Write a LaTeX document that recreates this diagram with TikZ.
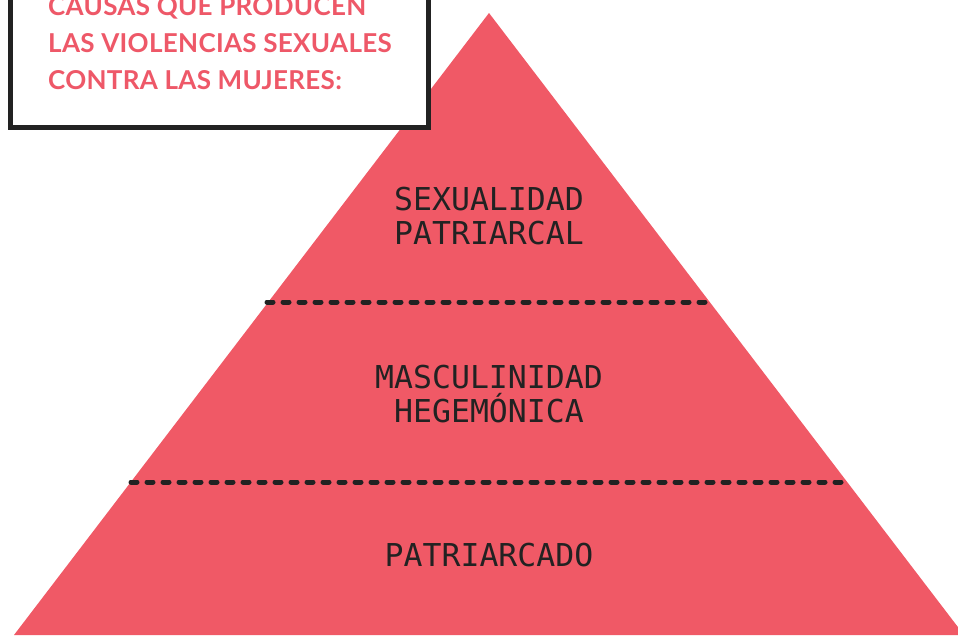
\documentclass[tikz,border=0pt]{standalone}
\usepackage{fontspec}
\newfontfamily\pyrfont{DejaVu Sans Mono}
\newfontfamily\titlefont[LetterSpace=1.2]{Lato Bold}
\definecolor{pyrred}{RGB}{240,89,102}
\definecolor{titlepink}{RGB}{238,88,104}
\definecolor{inkdark}{RGB}{34,34,34}
\tikzset{
  x=1pt,y=-1pt,
  layertext/.style={font=\pyrfont\fontsize{31.5}{31.5}\selectfont, text=inkdark, anchor=base, inner sep=0pt},
  titletext/.style={font=\titlefont\fontsize{26}{26}\selectfont, text=titlepink, anchor=base west, inner sep=0pt},
  divider/.style={draw=inkdark, line width=5pt, line cap=round, dash pattern=on 6pt off 10pt},
}
\begin{document}
\begin{tikzpicture}
\useasboundingbox (0,0) rectangle (958,635);
\begin{scope}
\clip (0,0) rectangle (958,635);
% pyramid
\coordinate (apex) at (489,13);
\coordinate (bl) at (14,635);
\coordinate (br) at (964,635);
\fill[pyrred] (apex) -- (bl) -- (br) -- cycle;
% dividers
\coordinate (d1l) at (267,302);
\coordinate (d1r) at (713,302);
\coordinate (d2l) at (131,482);
\coordinate (d2r) at (848,482);
\draw[divider] (d1l) -- (d1r);
\draw[divider] (d2l) -- (d2r);
% layer texts
\node[layertext] (t1a) at (489,210) {SEXUALIDAD};
\node[layertext] (t1b) at (489,244) {PATRIARCAL};
\node[layertext] (t2a) at (489,388) {MASCULINIDAD};
\node[layertext] (t2b) at (489,422) {HEGEMÓNICA};
\node[layertext] (t3) at (489,566) {PATRIARCADO};
% title box
\draw[fill=white, draw=inkdark, line width=5pt] (10,-20) rectangle (428,127);
\node[titletext] (h1) at (48,15) {CAUSAS QUE PRODUCEN};
\node[titletext] (h2) at (48,52) {LAS VIOLENCIAS SEXUALES};
\node[titletext] (h3) at (48,89) {CONTRA LAS MUJERES:};
\end{scope}
\end{tikzpicture}
\end{document}
